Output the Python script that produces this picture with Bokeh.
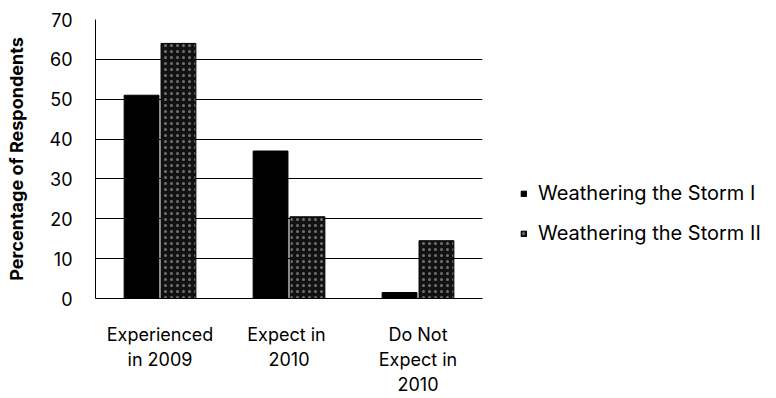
from bokeh.plotting import figure
from bokeh.models import ColumnDataSource, Legend, LegendItem, FactorRange
from bokeh.transform import dodge
from bokeh.embed import file_html
from bokeh.resources import INLINE

# Share of respondents per outcome, for the two survey waves
categories = ["Experienced\nin 2009", "Expect  in\n2010", "Do Not\nExpect in\n2010"]
storm_1 = [51, 37, 1.5]
storm_2 = [64, 20.5, 14.5]
series_names = ["Weathering the Storm I", "Weathering the Storm II"]
y_ticks = [0, 10, 20, 30, 40, 50, 60, 70]

FONT = "Inter"

source = ColumnDataSource(dict(cat=categories, s1=storm_1, s2=storm_2))

p = figure(
    x_range=FactorRange(*categories), y_range=(0, 70),
    frame_width=387, frame_height=279,
    min_border_left=95, min_border_right=294,
    min_border_top=19, min_border_bottom=100,
    output_backend="svg", toolbar_location=None,
)
p.outline_line_color = None
p.background_fill_color = "white"
p.border_fill_color = "white"

r1 = p.vbar(x=dodge("cat", -0.143, range=p.x_range), top="s1", width=0.27,
            source=source, fill_color="black", line_color="black")
r2 = p.vbar(x=dodge("cat", 0.143, range=p.x_range), top="s2", width=0.27,
            source=source, fill_color="#121212", line_color="black",
            hatch_pattern=".", hatch_color="white", hatch_alpha=0.4,
            hatch_scale=6, hatch_weight=0.8)

# grid
p.xgrid.grid_line_color = None
p.ygrid.grid_line_color = "black"
p.ygrid.grid_line_width = 1
p.yaxis.ticker = y_ticks

# axes
for ax in (p.xaxis, p.yaxis):
    ax.major_tick_line_color = None
    ax.minor_tick_line_color = None
    ax.major_tick_out = 0
    ax.major_tick_in = 0
    ax.minor_tick_out = 0
    ax.axis_line_color = "black"
    ax.major_label_text_font = FONT
    ax.major_label_text_color = "black"
    ax.major_label_text_font_size = "18px"

p.yaxis.major_label_standoff = 23
p.yaxis.axis_label = "Percentage of Respondents"
p.yaxis.axis_label_text_font = FONT
p.yaxis.axis_label_text_font_size = "18px"
p.yaxis.axis_label_text_font_style = "bold"
p.yaxis.axis_label_text_color = "black"
p.yaxis.axis_label_standoff = 20
p.xaxis.major_label_standoff = 25

legend = Legend(
    items=[LegendItem(label=series_names[0], renderers=[r1]),
           LegendItem(label=series_names[1], renderers=[r2])],
    location=(38, 53), orientation="vertical",
    glyph_width=7, glyph_height=7, label_standoff=11,
    label_text_font=FONT, label_text_font_size="20px",
    label_text_color="black",
    spacing=16, padding=0, margin=0,
    border_line_color=None, background_fill_alpha=0,
)
p.add_layout(legend, "right")

open("out.html", "w").write(file_html(p, INLINE))
